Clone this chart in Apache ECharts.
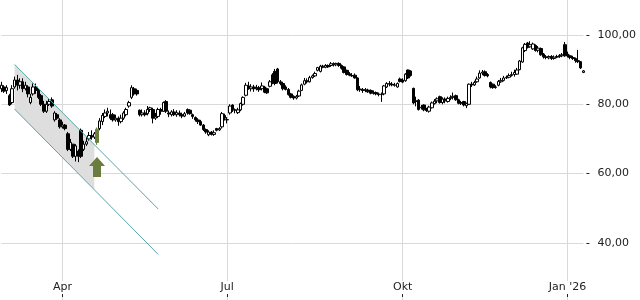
<!DOCTYPE html>
<html><head><meta charset="utf-8">
<script src="https://cdn.jsdelivr.net/npm/echarts@6/dist/echarts.min.js"></script>
<style>html,body{margin:0;padding:0;background:#fff}#c{width:640px;height:300px}</style>
</head><body><div id="c"></div>
<script>
// ---- trading calendar (Xetra) ----
const startDate = '2025-02-27';
const endDate = '2026-01-12';
const holidays = ['2025-04-18','2025-04-21','2025-05-01','2025-12-24','2025-12-25','2025-12-26','2025-12-31','2026-01-01'];
const monthNames = ['Jan','Feb','Mär','Apr','Mai','Jun','Jul','Aug','Sep','Okt','Nov','Dez'];

// ---- OHLC values ----
const opens = [84.5,85,84,82.5,80.5,85,87,85.5,86.5,84.5,85,80.5,83,85,84,82.5,80,78,80,81.3,
75.5,77,75.5,73.5,74,71.5,67,68.5,65,66.5,72.5,67,68.5,70,71,70.5,69,73,75,76.5,
77.5,77,77,75.5,76,75,76,77,79.5,82,84.5,84,78.3,77,77.5,77.3,78.5,78.5,76,76.5,
78.5,78,80.8,77.5,77,77.8,77,77.5,77,76.6,78.5,78.3,77,76.2,75.5,75,74,72.7,71.2,72,
71.3,73,72.6,73.5,76.8,75.5,77.5,79.8,78.3,77.6,78.4,80,82.6,85.3,84.5,85,84.5,84.8,84.5,85,
84.5,85.2,88.5,89.5,90.2,86.5,86,85,84.3,83,82.3,81.8,82.4,84,85.8,86.8,86.5,87.7,88.2,89.8,
89.5,91,90.7,91.2,91.2,91.7,91.4,91.8,91.2,90.8,89.8,88.8,88.3,88.4,87.6,84.4,84.2,84,84.1,84,
83.2,83.4,83,82.8,83,85,86,85.8,85.6,85,87.3,87,86.8,89.9,89.6,84.6,81,81.2,79,79.8,
78.5,78,79,80.2,81,82.2,80.5,81.5,80.8,81.7,82,82.5,81.3,80.5,80.8,79.6,80,85.8,85.6,86.5,
87.6,89,89.4,88.6,86.3,85.8,85,85.5,86.5,86.9,87.6,87.8,88.3,88.6,88.7,90,92.2,95.5,97.7,96.6,
96,97,95.6,96.1,94.5,93.7,93.4,93.8,93.2,93.6,93.8,94,97.2,94.5,94,93.5,93.2,92.6,92.3,89.2];
const closes = [85.5,83.8,84.8,79.8,84.5,87,85.5,86.5,84.5,85.5,83,82,85,84,82,80,78,80,80.8,79.5,
77.5,76,73.5,74,73,67,69,65,68,65,65,68.5,69.2,71,70.5,71.5,72.8,75.2,76.8,77.5,
78,76,75.5,76,75,76,77.5,78.5,80.5,84.8,83,83,77,77.5,77,78.5,79,76,76.5,78.5,
78,80.5,78,77.2,77.8,77,77.6,77,76.6,77.3,77.5,77.3,76.5,75.5,75,74,72.7,72,72,71.3,
71.8,72.5,73,77.3,76,75.6,79.5,78.5,78.4,78.4,80.2,82,85.5,84.5,85,84.5,84.8,84.2,85.3,83.5,
83.3,86.5,86.2,86,86.5,86,84.5,84.3,82.8,82,81.8,82.3,83.8,85.6,86.8,86.5,87.7,88.2,88.9,90.6,
91,90.7,91.2,90.8,91.7,91.4,91.8,91.2,90.4,89.2,88.6,88.4,88.2,87.6,84.2,84.2,84,84.2,83.6,83.2,
83.4,83,82.8,82.9,85.3,86,85.8,85.6,85.5,86,86.6,86.4,88.7,87.6,88.3,80.4,80.8,78.5,79.2,78.4,
78.2,79.2,80.4,80.9,81.6,80.5,81.5,81,81.7,82,82.3,81.3,80.3,80.3,79.8,80.2,85.8,85.6,86.3,87.3,
89,89.3,88.3,88.2,85,84.8,84.9,86.6,86.9,87.6,87.8,88.3,88.6,89.2,89.9,92.5,96.3,97.3,96.4,97.2,
97.4,95.5,96.2,94.3,93.7,93.5,93.8,93.2,93.6,93.8,94.1,94.3,94,94,93.5,93.2,92.6,92.3,90.5,89.64];
const lows = [83.5,83.3,83,79.5,80,84.5,84,84.5,83.5,84,82,80,82.5,83,81.5,79.5,77.5,77.5,79.5,79,
75,75.5,73,73,72.5,66.5,66.5,64.5,63.5,63.3,64.5,66.5,68,69.5,69.8,70,68.3,72.5,74,76,
76.5,75.5,75,75,73.8,74.5,75.5,76.5,79,81.5,82.5,82.5,76.5,76.5,76.5,76.8,77.8,74.5,75.5,76,
77,77.8,77.5,76.3,76.5,76.6,76.4,76.5,76,76.3,77,77,75.8,75,74.3,73.8,72.3,71.5,70.8,71,
70.9,72.2,72.3,73,75.3,74.5,77,77.8,77.4,77.2,78,79.6,82.3,84.2,83.7,83.6,84,83.6,84,83.2,
83,84.9,85.8,85.5,86,85.5,84,84,82.5,81.7,81.3,81.4,82.1,83.8,85.5,86,86.3,87.4,87.9,89.5,
89.2,90.4,90.4,90.5,90.8,90.9,91,90.8,90,88.9,88.3,88.1,87.9,87.4,83.8,83.6,83.3,83.5,83.3,82.9,
82.8,82.6,82.3,80.7,82.6,84.7,85.2,85.2,85.1,84.8,86.3,86.1,86.5,87.3,88,80,79.4,78.2,78.5,78,
77.8,77.6,78.8,79.9,80.3,80.2,80,80.3,80.5,81.2,81.4,81,80,79.8,79.4,78.9,79.8,85,85.3,86.2,
87.4,88.4,88,87.8,84.6,84.5,84.5,85.2,86.2,86.6,87.3,87.5,88,88,88.5,89.8,92,95.1,96.1,96.3,
95.7,95.2,95,94,93.2,93,93,92.8,92.9,93.3,93.4,93.6,93.7,93.5,93,92.8,92,91.9,90.2,89];
const highs = [86.5,85.5,85.5,83,85.5,88,88.5,87.5,87.5,86.5,85.5,83,86,86,84.5,83,81,81,81.5,82,
78,77.5,76,75,74.3,72,70,68.5,68.5,67,73,69.5,70.5,72,72.5,72,73.3,76,77.5,78.5,
79,78.5,77.5,77,76.5,77,78,79,81,85.5,85,84.5,78.5,78.5,78.3,79.5,79.3,79,77.5,79,
79,80.8,81.2,78.2,78.3,78.6,78.3,78.2,77.6,77.8,78.8,78.6,77.3,76.5,76,75.5,74.3,73,72.5,72.3,
72.5,73.2,73.4,77.8,77.3,76.3,80,80,78.8,79,80.5,82.3,86.2,86.5,85.8,85.6,85.6,85.3,86.3,85.3,
84.8,87,89,90.2,90.5,87,86.5,85.5,84.7,83.3,82.6,82.7,84.2,86,87.6,87.5,88.2,88.6,89.4,90.8,
91.4,91.4,91.6,91.5,92.2,92.1,92,92.1,91.5,91,90,89.3,89,88.9,87.8,85.3,84.7,84.7,84.5,84.3,
84,83.7,83.4,83.4,85.6,86.4,86.7,86.4,86.2,86.3,87.7,87.5,89,90,89.8,84.8,82.2,81.5,79.8,80,
79,79.6,80.8,81.5,82,82.5,82,82,82.2,82.6,83.4,82.8,81.6,81,81,80.5,86,86.5,86.8,88,
89.8,89.9,89.8,89,86.6,86,85.5,87,87.6,88.2,88.3,88.9,89.4,90,90.5,92.8,96.6,97.7,98,98.2,
97.8,97.3,96.8,96.4,94.8,94.2,94.1,94.2,94.1,94.3,94.5,94.8,98,95.2,94.3,94,93.5,95.7,92.5,89.9];

// ---- annotations ----
const lastPrice = 89.64;
const signalIndex = 36;          // candle marked green
const arrowValue = 61.9;         // arrow centre (price)
const channelIdx = [5, 59];      // trend channel start / end (trading day index)
const channelUpper = [91.5, 49.8];
const channelLower = [78.6, 36.7];
const shadeEndIdx = 35;
const yTicksMin = 20, yTicksMax = 120, yTicksStep = 20;

// build trading dates
const dates = [];
(function(){
  const end = new Date(endDate + 'T00:00:00Z');
  for (let d = new Date(startDate + 'T00:00:00Z'); d <= end; d.setUTCDate(d.getUTCDate() + 1)) {
    const wd = d.getUTCDay();
    const s = d.toISOString().slice(0, 10);
    if (wd === 0 || wd === 6 || holidays.indexOf(s) >= 0) continue;
    dates.push(s);
  }
})();

function isQuarterStart(i) {
  if (i <= 0 || i >= dates.length) return false;
  const m = +dates[i].slice(5, 7), pm = +dates[i - 1].slice(5, 7);
  return m !== pm && (m - 1) % 3 === 0;
}
function monthLabel(v) {
  const m = +v.slice(5, 7) - 1;
  return m === 0 ? monthNames[m] + " '" + v.slice(2, 4) : monthNames[m];
}

const GREEN = '#6b7d3c';
const candleData = dates.map((d, i) => {
  const v = [opens[i], closes[i], lows[i], highs[i]];
  if (i === signalIndex) {
    return { value: v, itemStyle: { color: GREEN, color0: GREEN, borderColor: GREEN, borderColor0: GREEN } };
  }
  return v;
});

const FONT = 'DejaVu Sans';
const chart = echarts.init(document.getElementById('c'), null, { renderer: 'canvas' });
chart.setOption({
  animation: false,
  backgroundColor: '#fff',
  grid: { left: 1.33, right: 56.6, top: -34.3, bottom: -12.2, containLabel: false, outerBoundsMode: 'none' },
  xAxis: {
    type: 'category', data: dates, boundaryGap: false, offset: -15.2,
    axisLine: { show: false },
    axisTick: { show: true, inside: true, length: 4, interval: (i) => isQuarterStart(i), lineStyle: { color: '#222' } },
    axisLabel: { inside: true, margin: 3, interval: (i) => isQuarterStart(i), formatter: (v) => monthLabel(v),
      color: '#222', fontSize: 11, fontFamily: FONT, backgroundColor: '#fff', padding: [1, 1, 1, 1] },
    splitLine: { show: true, interval: (i) => isQuarterStart(i), lineStyle: { color: '#d9d9d9', width: 1 } }
  },
  yAxis: {
    type: 'value', position: 'right', min: yTicksMin, max: yTicksMax, interval: yTicksStep, offset: 3,
    axisLine: { show: false },
    axisTick: { show: true, length: 3, lineStyle: { color: '#222' } },
    axisLabel: { margin: 11, color: '#222', fontSize: 11, fontFamily: FONT,
      formatter: (v) => v.toFixed(2).replace('.', ',') },
    splitLine: { show: true, lineStyle: { color: '#d9d9d9', width: 1 } }
  },
  series: [
    {
      type: 'custom', z: 1, silent: true, data: [0],
      renderItem: (params, api) => {
        const t = (shadeEndIdx - channelIdx[0]) / (channelIdx[1] - channelIdx[0]);
        const uEnd = channelUpper[0] + (channelUpper[1] - channelUpper[0]) * t;
        const lEnd = channelLower[0] + (channelLower[1] - channelLower[0]) * t;
        const pts = [
          api.coord([channelIdx[0], channelUpper[0]]),
          api.coord([shadeEndIdx, uEnd]),
          api.coord([shadeEndIdx, lEnd]),
          api.coord([channelIdx[0], channelLower[0]])
        ];
        return { type: 'polygon', shape: { points: pts }, style: { fill: '#dedede' } };
      }
    },
    {
      type: 'candlestick', data: candleData, barWidth: 3, clip: false, z: 3,
      itemStyle: { color: '#fff', color0: '#000', borderColor: '#000', borderColor0: '#000', borderWidth: 1 },
      markLine: {
        silent: true, symbol: ['none', 'none'], animation: false,
        lineStyle: { color: '#5aa5aa', width: 1, type: 'solid' },
        label: { show: false },
        data: [
          [{ coord: [dates[channelIdx[0]], channelUpper[0]] }, { coord: [dates[channelIdx[1]], channelUpper[1]] }],
          [{ coord: [dates[channelIdx[0]], channelLower[0]] }, { coord: [dates[channelIdx[1]], channelLower[1]] }],
          { yAxis: lastPrice, lineStyle: { opacity: 0 },
            label: { show: true, position: 'end', distance: 13, formatter: lastPrice.toFixed(2).replace('.', ','),
              color: '#222', fontSize: 11, fontFamily: FONT } }
        ]
      },
      markPoint: {
        silent: true, animation: false,
        data: [{ coord: [dates[signalIndex], arrowValue],
          symbol: 'path://M8,0L16,9L12,9L12,20L4,20L4,9L0,9Z', symbolSize: [16, 20],
          itemStyle: { color: GREEN }, label: { show: false } }]
      }
    }
  ]
});
</script>
</body></html>
